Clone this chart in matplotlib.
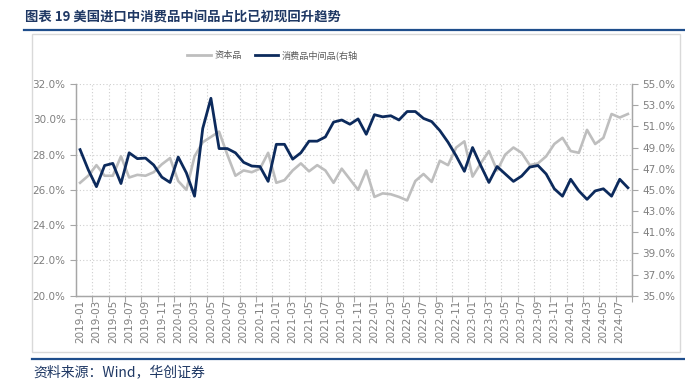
import matplotlib
matplotlib.use("Agg")
import matplotlib.pyplot as plt
from matplotlib.lines import Line2D
import numpy as np

plt.rcParams['font.family'] = ['Noto Sans CJK SC', 'DejaVu Sans']

months = [f"{y}-{m:02d}" for y in range(2019, 2025) for m in range(1, 13)][:68]

capital_goods = [26.4, 26.8, 27.4, 26.8, 26.8, 27.9, 26.7, 26.85, 26.8, 27.0,
                 27.45, 27.8, 26.5, 26.0, 27.9, 28.7, 29.0, 29.3, 28.0, 26.8,
                 27.1, 27.0, 27.2, 28.1, 26.4, 26.55, 27.1, 27.5, 27.05, 27.4,
                 27.1, 26.4, 27.2, 26.6, 26.0, 27.1, 25.6, 25.8, 25.75, 25.6,
                 25.4, 26.5, 26.9, 26.45, 27.65, 27.4, 28.4, 28.75, 26.75, 27.5,
                 28.2, 27.1, 28.0, 28.4, 28.1, 27.4, 27.5, 27.9, 28.6, 28.95,
                 28.2, 28.1, 29.4, 28.6, 28.95, 30.3, 30.1, 30.3]

consumer_intermediate = [48.8, 46.9, 45.3, 47.3, 47.5, 45.6, 48.5, 47.95, 48.0, 47.35,
                         46.2, 45.7, 48.1, 46.6, 44.4, 50.8, 53.65, 48.9, 48.9, 48.5,
                         47.6, 47.25, 47.2, 45.8, 49.3, 49.3, 47.9, 48.5, 49.6, 49.6,
                         50.0, 51.4, 51.6, 51.2, 51.7, 50.25, 52.1, 51.9, 52.0, 51.6,
                         52.4, 52.4, 51.75, 51.45, 50.6, 49.5, 48.2, 46.75, 49.0, 47.3,
                         45.7, 47.2, 46.5, 45.8, 46.3, 47.15, 47.3, 46.5, 45.1, 44.4,
                         46.0, 44.9, 44.1, 44.9, 45.1, 44.4, 46.0, 45.2]

left_ticks = [20, 22, 24, 26, 28, 30, 32]
right_ticks = [35, 37, 39, 41, 43, 45, 47, 49, 51, 53, 55]

GRAY = '#BEBEBE'
NAVY = '#0C2A5C'
TICKC = '#7F7F7F'
TITLEC = '#1F3864'
LINEC = '#1F4E8C'

fig = plt.figure(figsize=(6.85, 3.82), dpi=100)

# frame box around chart
fig.add_artist(plt.Rectangle((32/685, 1-352/382), (680-32)/685, (352-34)/382,
                             transform=fig.transFigure, fill=False,
                             edgecolor='#D9D9D9', lw=1.0))
fig.add_artist(Line2D([24/685, 1], [1-30/382, 1-30/382], transform=fig.transFigure,
                      color=LINEC, lw=1.6))
fig.add_artist(Line2D([32/685, 1], [1-358.5/382, 1-358.5/382], transform=fig.transFigure,
                      color=LINEC, lw=1.6))

fig.text(25/685, 1-17/382, "图表 19 美国进口中消费品中间品占比已初现回升趋势",
         fontsize=9.6, fontweight='bold', color=TITLEC, va='center', ha='left')
fig.text(33/685, 1-372.5/382, "资料来源：Wind，华创证券", fontsize=10,
         color=TITLEC, va='center', ha='left', style='italic')

ax = fig.add_axes([76/685, 1-295.7/382, (632-76)/685, (295.7-84)/382])
ax2 = ax.twinx()

x = np.arange(len(months))
ax.plot(x, capital_goods, color=GRAY, lw=1.9, zorder=3)
ax2.plot(x, consumer_intermediate, color=NAVY, lw=2.0, zorder=4)

ax.set_xlim(-0.5, len(months) - 0.5)
ax.set_ylim(20, 32)
ax2.set_ylim(35, 55)
ax.set_yticks(left_ticks)
ax.set_yticklabels([f"{v:.1f}%" for v in left_ticks])
ax2.set_yticks(right_ticks)
ax2.set_yticklabels([f"{v:.1f}%" for v in right_ticks])

# x ticks: boundary marks every 2 months, labels centered on categories
bounds = np.arange(1.5, len(months), 2)
ax.set_xticks(bounds)
ax.set_xticklabels([])
ax.set_xticks(x[::2], minor=True)
ax.set_xticklabels(months[::2], minor=True, rotation=90, fontsize=7.5,
                   color=TICKC, family=['Liberation Sans Narrow', 'DejaVu Sans'])
ax.tick_params(axis='x', which='minor', length=0, pad=3)
ax.tick_params(axis='x', which='major', length=4, color='#A6A6A6', width=0.8)

for a in (ax, ax2):
    a.tick_params(axis='y', labelsize=7.5, colors=TICKC, length=4, width=0.8)
    for lbl in a.get_yticklabels():
        lbl.set_family(['Liberation Sans Narrow', 'DejaVu Sans'])
    a.spines['top'].set_visible(False)
    for s in ('left', 'right', 'bottom'):
        a.spines[s].set_color('#A6A6A6')
        a.spines[s].set_linewidth(0.9)
ax.tick_params(axis='y', colors='#A6A6A6', labelcolor=TICKC)
ax2.tick_params(axis='y', colors='#A6A6A6', labelcolor=TICKC)

ax.grid(True, axis='both', which='major', linestyle=(0, (1, 2)), color='#CFCFCF', lw=0.8)
ax.set_axisbelow(True)

handles = [Line2D([], [], color=GRAY, lw=2.0), Line2D([], [], color=NAVY, lw=2.0)]
fig.legend(handles, ["资本品", "消费品中间品(右轴"], loc='center',
           bbox_to_anchor=(272.5/685, 1-55/382), ncol=2, frameon=False, fontsize=6.6,
           labelcolor='#595959', handlelength=2.6, columnspacing=1.4, handletextpad=0.35)

fig.savefig("out.png", dpi=100)
